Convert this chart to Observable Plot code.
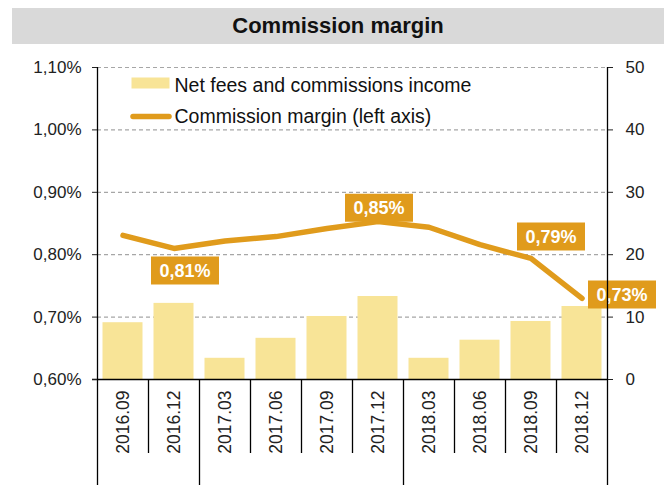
<!DOCTYPE html>
<html>
<head>
<meta charset="utf-8">
<script src="https://cdn.jsdelivr.net/npm/d3@7"></script>
<script src="https://cdn.jsdelivr.net/npm/@observablehq/plot@0.6"></script>
<style>
  html, body { margin: 0; padding: 0; background: #fff; }
  body { width: 672px; height: 485px; overflow: hidden; font-family: Arial, "Liberation Sans", sans-serif; }
  .title { margin: 8px 8px 0 12px; height: 36px; line-height: 36px; background: #d9d9d9;
           text-align: center; font-weight: bold; font-size: 22px; color: #111; }
  #chart svg { display: block; }
</style>
</head>
<body>
<div class="title">Commission margin</div>
<div id="chart"></div>
<script>
// ---- data ----
const categories = ["2016.09","2016.12","2017.03","2017.06","2017.09","2017.12","2018.03","2018.06","2018.09","2018.12"];
const feesIncome = [9.1, 12.2, 3.4, 6.6, 10.1, 13.3, 3.4, 6.3, 9.3, 11.7];          // right axis
const commissionMargin = [0.831, 0.810, 0.822, 0.829, 0.842, 0.853, 0.844, 0.816, 0.794, 0.730]; // left axis, %
const leftTicks = [0.6, 0.7, 0.8, 0.9, 1.0, 1.1];
const rightTicks = [0, 10, 20, 30, 40, 50];
const seriesNames = ["Net fees and commissions income", "Commission margin (left axis)"];

// ---- layout / styles ----
const W = 672, H = 441, mL = 97, mR = 65, mT = 23, mB = 106;
const innerH = H - mT - mB;
const bw = (W - mL - mR) / categories.length;
const barColor = "#f8e497", lineColor = "#e09b1c";
const yLeft = [0.6, 1.1], yRight = [0, 50];
const toLeft = v => yLeft[0] + (v - yRight[0]) * (yLeft[1] - yLeft[0]) / (yRight[1] - yRight[0]);
const toRight = d => yRight[0] + (d - yLeft[0]) * (yRight[1] - yRight[0]) / (yLeft[1] - yLeft[0]);
const pxToY = px => yLeft[0] - px * (yLeft[1] - yLeft[0]) / innerH; // offset below x axis
const fmtPct = d => d.toFixed(2).replace(".", ",") + "%";

const rows = categories.map((c, i) => ({cat: c, fees: feesIncome[i], margin: commissionMargin[i], i}));

// separators at band edges
const edges = d3.range(categories.length + 1).map(k => ({
  cat: categories[Math.min(k, categories.length - 1)],
  side: k === categories.length ? 1 : -1,
  long: [0, 2, 6, categories.length].includes(k),
  axis: k === 0 || k === categories.length
}));

const rectSym = (w, h) => ({draw(ctx) { ctx.rect(-w / 2, -h / 2, w, h); }});

const labelSpecs = [
  {i: 1, dx: 11, dy: 22},
  {i: 5, dx: 1, dy: -14},
  {i: 8, dx: 20, dy: -22},
  {i: 9, dx: 40, dy: -4}
];

const labelMarks = labelSpecs.flatMap(s => {
  const d = [rows[s.i]];
  return [
    Plot.dot(d, {x: "cat", y: "margin", dx: s.dx, dy: s.dy, symbol: rectSym(68, 28), fill: lineColor, stroke: "none"}),
    Plot.text(d, {x: "cat", y: "margin", dx: s.dx, dy: s.dy + 1, text: r => fmtPct(r.margin),
      fill: "white", fontWeight: "bold", fontSize: 18})
  ];
});

const edgeMark = (filter, y1fn, y2fn, dxSign) => Plot.ruleX(edges.filter(filter), {
  x: "cat", dx: dxSign * bw / 2, y1: y1fn, y2: y2fn, stroke: "#000", strokeWidth: 1.3
});

const chart = Plot.plot({
  width: W, height: H,
  marginLeft: mL, marginRight: mR, marginTop: mT, marginBottom: mB,
  style: {fontFamily: "Arial, 'Liberation Sans', sans-serif", fontSize: "17px", color: "#222", background: "white", overflow: "visible"},
  x: {type: "band", domain: categories, padding: 0},
  y: {domain: yLeft},
  marks: [
    Plot.ruleY(leftTicks.slice(1), {stroke: "#a6a6a6", strokeDasharray: "4,3", strokeWidth: 1.2}),
    Plot.barY(rows, {x: "cat", y1: yLeft[0], y2: r => toLeft(r.fees), fill: barColor, insetLeft: 5.5, insetRight: 5.5}),
    Plot.line(rows, {x: "cat", y: "margin", stroke: lineColor, strokeWidth: 5.5, strokeLinecap: "round", strokeLinejoin: "round"}),
    ...labelMarks,
    Plot.ruleY([yLeft[0]], {stroke: "#000", strokeWidth: 1.3, insetLeft: -5}),
    // short band separators
    edgeMark(e => !e.long, yLeft[0], pxToY(74), -1),
    // year group separators and axis lines
    edgeMark(e => e.long && e.side < 0, e => e.axis ? yLeft[1] : yLeft[0], pxToY(106), -1),
    edgeMark(e => e.long && e.side > 0, yLeft[1], pxToY(106), 1),
    Plot.axisY({anchor: "left", ticks: leftTicks, tickFormat: fmtPct, tickSize: 5, tickPadding: 11, fontSize: 17, label: null}),
    Plot.axisY({anchor: "right", ticks: rightTicks.map(toLeft), tickFormat: d => String(Math.round(toRight(d))),
      tickSize: 5, tickPadding: 13, fontSize: 17, label: null}),
    Plot.axisX({tickRotate: -90, tickSize: 0, tickPadding: 11, fontSize: 17.5, label: null}),
    // legend
    Plot.dot([0], {frameAnchor: "top-left", dx: 53, dy: 15.5, symbol: rectSym(38, 11), fill: barColor, stroke: "none"}),
    Plot.dot([0], {frameAnchor: "top-left", dx: 53.5, dy: 49, symbol: {draw(ctx) { ctx.moveTo(-18, -2.75); ctx.lineTo(18, -2.75); ctx.arc(18, 0, 2.75, -Math.PI/2, Math.PI/2); ctx.lineTo(-18, 2.75); ctx.arc(-18, 0, 2.75, Math.PI/2, 3*Math.PI/2); ctx.closePath(); }}, fill: lineColor, stroke: "none"}),
    Plot.text([seriesNames[0]], {frameAnchor: "top-left", dx: 77, dy: 24, lineAnchor: "bottom", text: d => d, textAnchor: "start", fontSize: 19.5, fill: "#111"}),
    Plot.text([seriesNames[1]], {frameAnchor: "top-left", dx: 77, dy: 55, lineAnchor: "bottom", text: d => d, textAnchor: "start", fontSize: 19.5, fill: "#111"})
  ]
});
document.getElementById("chart").appendChild(chart);
</script>
</body>
</html>
